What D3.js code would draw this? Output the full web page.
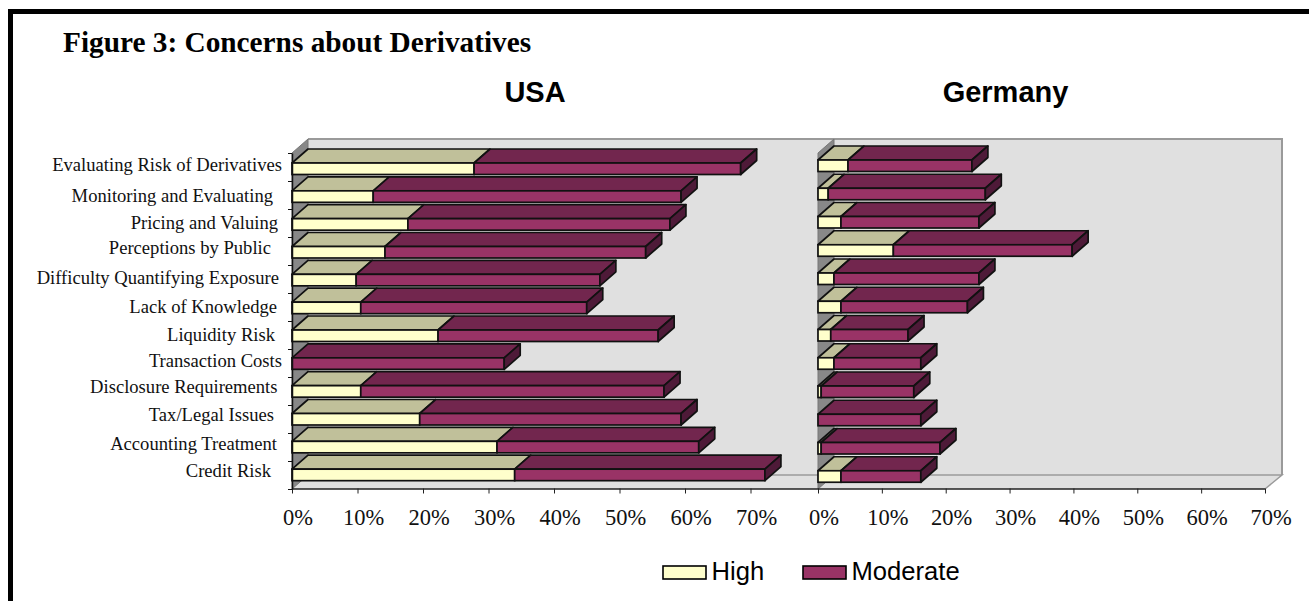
<!DOCTYPE html>
<html><head><meta charset="utf-8">
<script src="https://cdnjs.cloudflare.com/ajax/libs/d3/7.8.5/d3.min.js"></script>
<style>html,body{margin:0;padding:0;background:#fff}svg{display:block}</style></head>
<body><svg id="c" width="1309" height="601"></svg>
<script>
const categories = ["Evaluating Risk of Derivatives","Monitoring and Evaluating","Pricing and Valuing","Perceptions by Public","Difficulty Quantifying Exposure","Lack of Knowledge","Liquidity Risk","Transaction Costs","Disclosure Requirements","Tax/Legal Issues","Accounting Treatment","Credit Risk"];
const usaHigh = [27.8,12.4,17.7,14.2,9.8,10.5,22.3,0,10.5,19.5,31.3,34];
const usaModerate = [40.7,47,40,39.8,37.2,34.5,33.6,32.4,46.3,39.9,30.8,38.2];
const germanyHigh = [4.7,1.6,3.6,11.8,2.5,3.6,2,2.5,0.5,0,0.5,3.6];
const germanyModerate = [19.4,24.6,21.6,28,22.7,19.8,12.1,13.6,14.5,16.1,18.6,12.5];
const tickPercents = [0,10,20,30,40,50,60,70];
const seriesNames = ["High","Moderate"];

const labelEnd = 282, labelNudgeY = [0,2.5,2,-1,1,2,2,0,-2,-2,-1,-2], labelNudgeX = [0,-9,-4,-11,-3,-5,-7,0,-4.5,-8,-5,-11];
const depthX = 16, depthY = 14, barH = 11.5;
const colors = {High:{front:"#ffffcc",top:"#c0c09a"},Moderate:{front:"#993366",top:"#72264e",side:"#4e1a38"}};
const ink = "#111";
const svg = d3.select("#c");

svg.append("path").attr("d","M1309,11.5H10.5V601").attr("fill","none").attr("stroke","#000").attr("stroke-width",5);

svg.append("text").attr("x",63).attr("y",51.5).attr("font-family","'Liberation Serif'").attr("font-weight","bold").attr("font-size",29.3).attr("fill","#000").text("Figure 3: Concerns about Derivatives");
svg.selectAll(".pt").data([["USA",535],["Germany",1005.5]]).join("text").attr("class","pt")
  .attr("x",d=>d[1]).attr("y",102).attr("text-anchor","middle").attr("font-family","'Liberation Sans'").attr("font-weight","bold").attr("font-size",29).attr("fill","#000").text(d=>d[0]);

const xL = d3.scaleLinear().domain([0,70]).range([292,750.5]);
const xR = d3.scaleLinear().domain([0,70]).range([818,1265]);
const tickY = d3.scaleLinear().domain([0,12]).range([153,489]);
const yL = d3.scaleBand().domain(categories).range([153.5,487.5]);
const yR = d3.scaleBand().domain(categories).range([150.5,489.5]);
const frontOffset = 9.5;

const wallRight = xR(70)+depthX+1, wallTop = 139, wallBottom = 489-depthY;
svg.append("rect").attr("x",292+depthX).attr("y",wallTop).attr("width",wallRight-292-depthX).attr("height",wallBottom-wallTop).attr("fill","#e0e0e0");
svg.append("path").attr("d",`M292,489L${292+depthX},${wallBottom}H${wallRight}L${xR(70)},489Z`).attr("fill","#e0e0e0");
svg.append("path").attr("d",`M${292+depthX},${wallTop}H${wallRight}V${wallBottom}`).attr("fill","none").attr("stroke","#9a9a9a").attr("stroke-width",2);
svg.append("path").attr("d",`M${292+depthX},${wallBottom}H${wallRight}L${xR(70)},489`).attr("fill","none").attr("stroke","#9a9a9a").attr("stroke-width",1.5);

function panel(x, y, high, moderate){
  const x0 = x(0);
  svg.append("path").attr("d",`M${x0},${153}L${x0+depthX},${wallTop}V${wallBottom}L${x0},489Z`).attr("fill","#888").attr("stroke","#777").attr("stroke-width",1);
  const g = svg.append("g");
  categories.forEach((c,i)=>{
    const top = y(c)+frontOffset;
    const segs = [{n:"High",a:0,b:high[i]},{n:"Moderate",a:high[i],b:high[i]+moderate[i]}].filter(s=>s.b>s.a);
    segs.forEach(s=>{
      const xa=x(s.a), xb=x(s.b), col=colors[s.n];
      g.append("path").attr("d",`M${xa},${top}L${xa+depthX},${top-depthY}H${xb+depthX}L${xb},${top}Z`)
        .attr("fill",col.top).attr("stroke",ink).attr("stroke-width",1.7).attr("stroke-linejoin","round");
      g.append("rect").attr("x",xa).attr("y",top).attr("width",xb-xa).attr("height",barH)
        .attr("fill",col.front).attr("stroke",ink).attr("stroke-width",1.7);
    });
    const end = x(high[i]+moderate[i]);
    g.append("path").attr("d",`M${end},${top}L${end+depthX},${top-depthY}V${top-depthY+barH}L${end},${top+barH}Z`)
      .attr("fill",colors.Moderate.side).attr("stroke",ink).attr("stroke-width",1.7).attr("stroke-linejoin","round");
  });
}
panel(xL,yL,usaHigh,usaModerate);
panel(xR,yR,germanyHigh,germanyModerate);

function valueAxis(x, endX){
  const g = svg.append("g").attr("transform","translate(0,488.5)")
    .call(d3.axisBottom(x).tickValues(tickPercents).tickFormat(d=>d+"%").tickSize(5).tickSizeOuter(0));
  g.select(".domain").attr("stroke","#222").attr("stroke-width",1.5).attr("d",`M${x(0)},0.5H${endX}`);
  g.selectAll(".tick line").attr("stroke","#222");
  g.selectAll(".tick text").attr("font-family","'Liberation Serif'").attr("font-size",22.5).attr("fill","#111").attr("dx",5.5).attr("y",21).attr("dy","0.71em");
}
valueAxis(xL,xR(0));
valueAxis(xR,xR(70));

const slotAxis = svg.append("g").attr("transform","translate(292,0)")
  .call(d3.axisLeft(tickY).tickValues(d3.range(13)).tickFormat("").tickSize(4).tickSizeOuter(0));
slotAxis.select(".domain").attr("stroke","#111").attr("stroke-width",1.5);
slotAxis.selectAll(".tick line").attr("stroke","#111");
const labelScale = d3.scaleBand().domain(categories).range([153,489]);
const catAxis = svg.append("g").attr("transform",`translate(${labelEnd},0)`)
  .call(d3.axisLeft(labelScale).tickSize(0).tickPadding(0));
catAxis.select(".domain").remove();
catAxis.selectAll(".tick text").attr("font-family","'Liberation Serif'").attr("font-size",18.6).attr("fill","#111")
  .attr("x",(d,i)=>labelNudgeX[i])
  .attr("dy",(d,i)=>(0.32*18.6+labelNudgeY[i]-1.5)+"px");

const legendScale = d3.scalePoint().domain(seriesNames).range([663,803]);
const lg = svg.selectAll(".lg").data(seriesNames).join("g").attr("class","lg").attr("transform",d=>`translate(${legendScale(d)},566)`);
lg.append("rect").attr("width",43).attr("height",13).attr("fill",d=>colors[d].front).attr("stroke","#000").attr("stroke-width",1.6);
lg.append("text").attr("x",48.5).attr("y",14).attr("font-family","'Liberation Sans'").attr("font-size",25.6).attr("fill","#000").text(d=>d);
</script></body></html>
